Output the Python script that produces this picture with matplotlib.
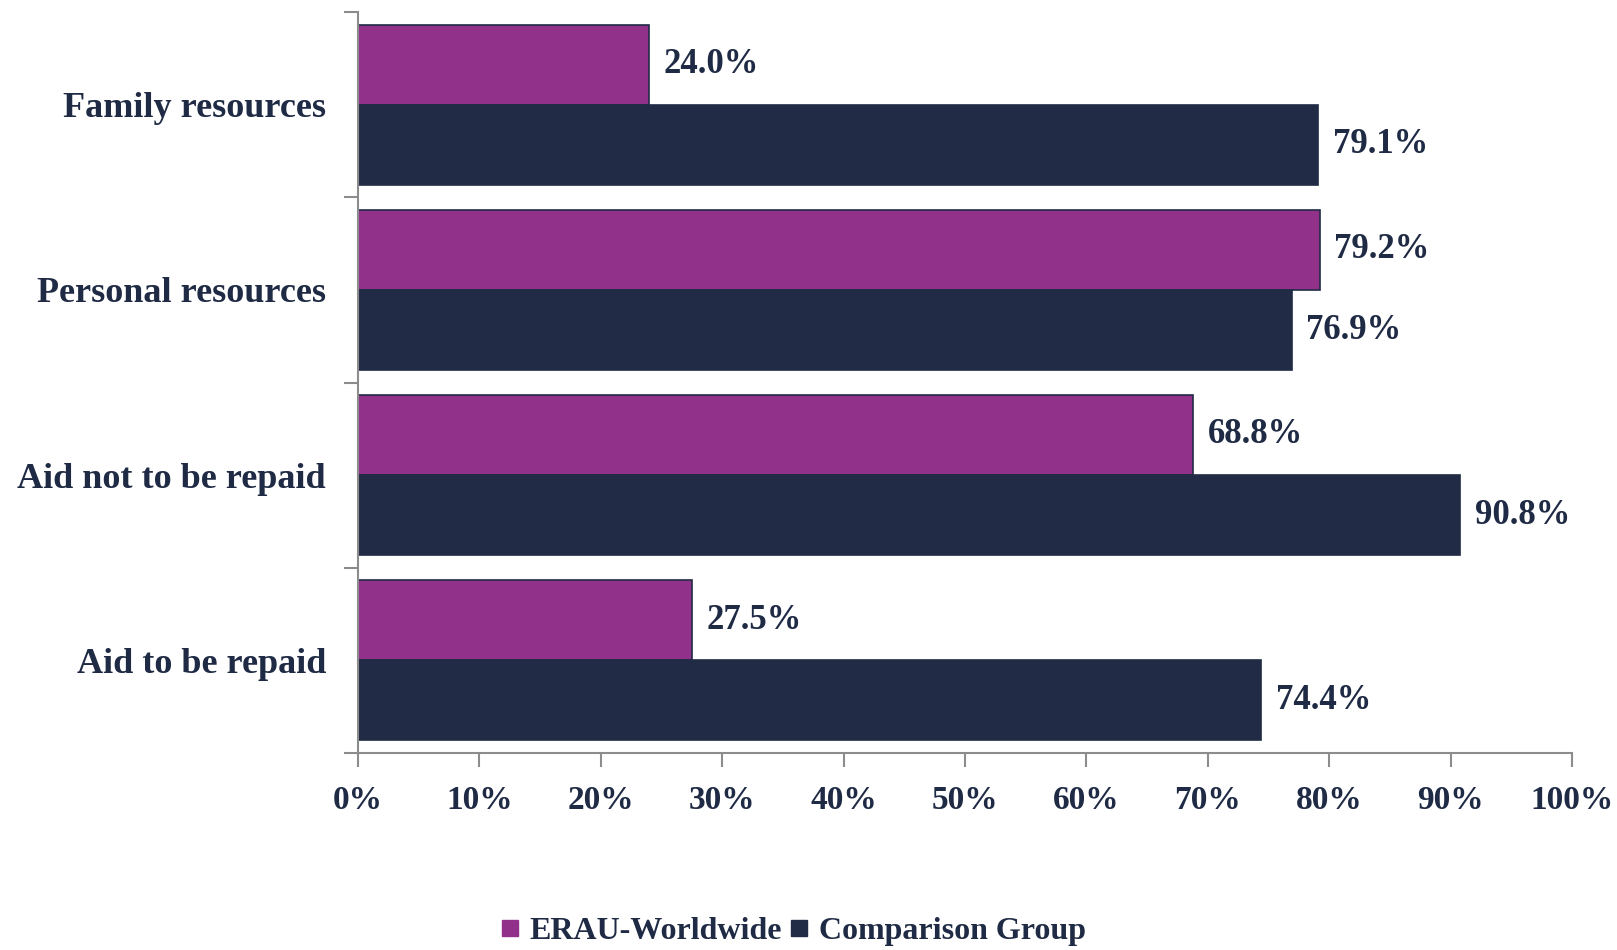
import matplotlib
matplotlib.use("Agg")
import matplotlib.pyplot as plt
import numpy as np
from matplotlib.lines import Line2D

categories = ["Family resources", "Personal resources", "Aid not to be repaid", "Aid to be repaid"]
erau = [24.0, 79.2, 68.8, 27.5]
comparison = [79.1, 76.9, 90.8, 74.4]
series_names = ["ERAU-Worldwide", "Comparison Group"]
xticks = [0, 10, 20, 30, 40, 50, 60, 70, 80, 90, 100]
xtick_labels = [f"{v}%" for v in xticks]

PURPLE = "#92318A"
NAVY = "#212B45"
TEXT = "#1F2A44"
GRAY = "#8C8C8C"
FONT = "Liberation Serif"

fig = plt.figure(figsize=(16.17, 9.5), dpi=100)
ax = fig.add_axes([0.2214, 0.2077, 0.7508, 0.7793])

y = np.arange(len(categories))
h = 0.433
ax.barh(y - h / 2, erau, height=h, color=PURPLE, edgecolor=NAVY, linewidth=1.2)
ax.barh(y + h / 2, comparison, height=h, color=NAVY, edgecolor=NAVY, linewidth=1.2)

for yi, v in zip(y, erau):
    ax.text(v + 1.2, yi - h / 2, f"{v:.1f}%", va="center", ha="left",
            fontsize=25, fontweight="bold", color=TEXT, family=FONT)
for yi, v in zip(y, comparison):
    ax.text(v + 1.2, yi + h / 2, f"{v:.1f}%", va="center", ha="left",
            fontsize=25, fontweight="bold", color=TEXT, family=FONT)

ax.set_xlim(0, 100)
ax.set_ylim(len(categories) - 0.5, -0.5)
ax.set_xticks(xticks)
ax.set_xticklabels(xtick_labels, fontsize=24, fontweight="bold", color=TEXT, family=FONT)
ax.set_yticks(y)
ax.set_yticklabels(categories, fontsize=26, fontweight="bold", color=TEXT, family=FONT)
ax.set_yticks(np.arange(-0.5, len(categories), 1.0), minor=True)
ax.tick_params(axis="y", which="major", length=0, pad=23)
ax.tick_params(axis="y", which="minor", length=10, width=1.5, color=GRAY, direction="out")
ax.tick_params(axis="x", which="major", length=10, width=1.5, color=GRAY, direction="out", pad=13)

for s in ["top", "right"]:
    ax.spines[s].set_visible(False)
for s in ["left", "bottom"]:
    ax.spines[s].set_color(GRAY)
    ax.spines[s].set_linewidth(1.5)

handles = [Line2D([0], [0], marker="s", linestyle="none", markersize=11,
                  markerfacecolor=c, markeredgecolor=c) for c in (PURPLE, NAVY)]
fig.legend(handles, series_names, loc="center", bbox_to_anchor=(0.49, 0.02), ncol=2,
           frameon=False, handletextpad=0.25, columnspacing=0.2, handlelength=0.7,
           prop={"family": FONT, "weight": "bold", "size": 23})
for t in fig.legends[0].get_texts():
    t.set_color(TEXT)

fig.savefig("out.png", dpi=100, facecolor="white")
